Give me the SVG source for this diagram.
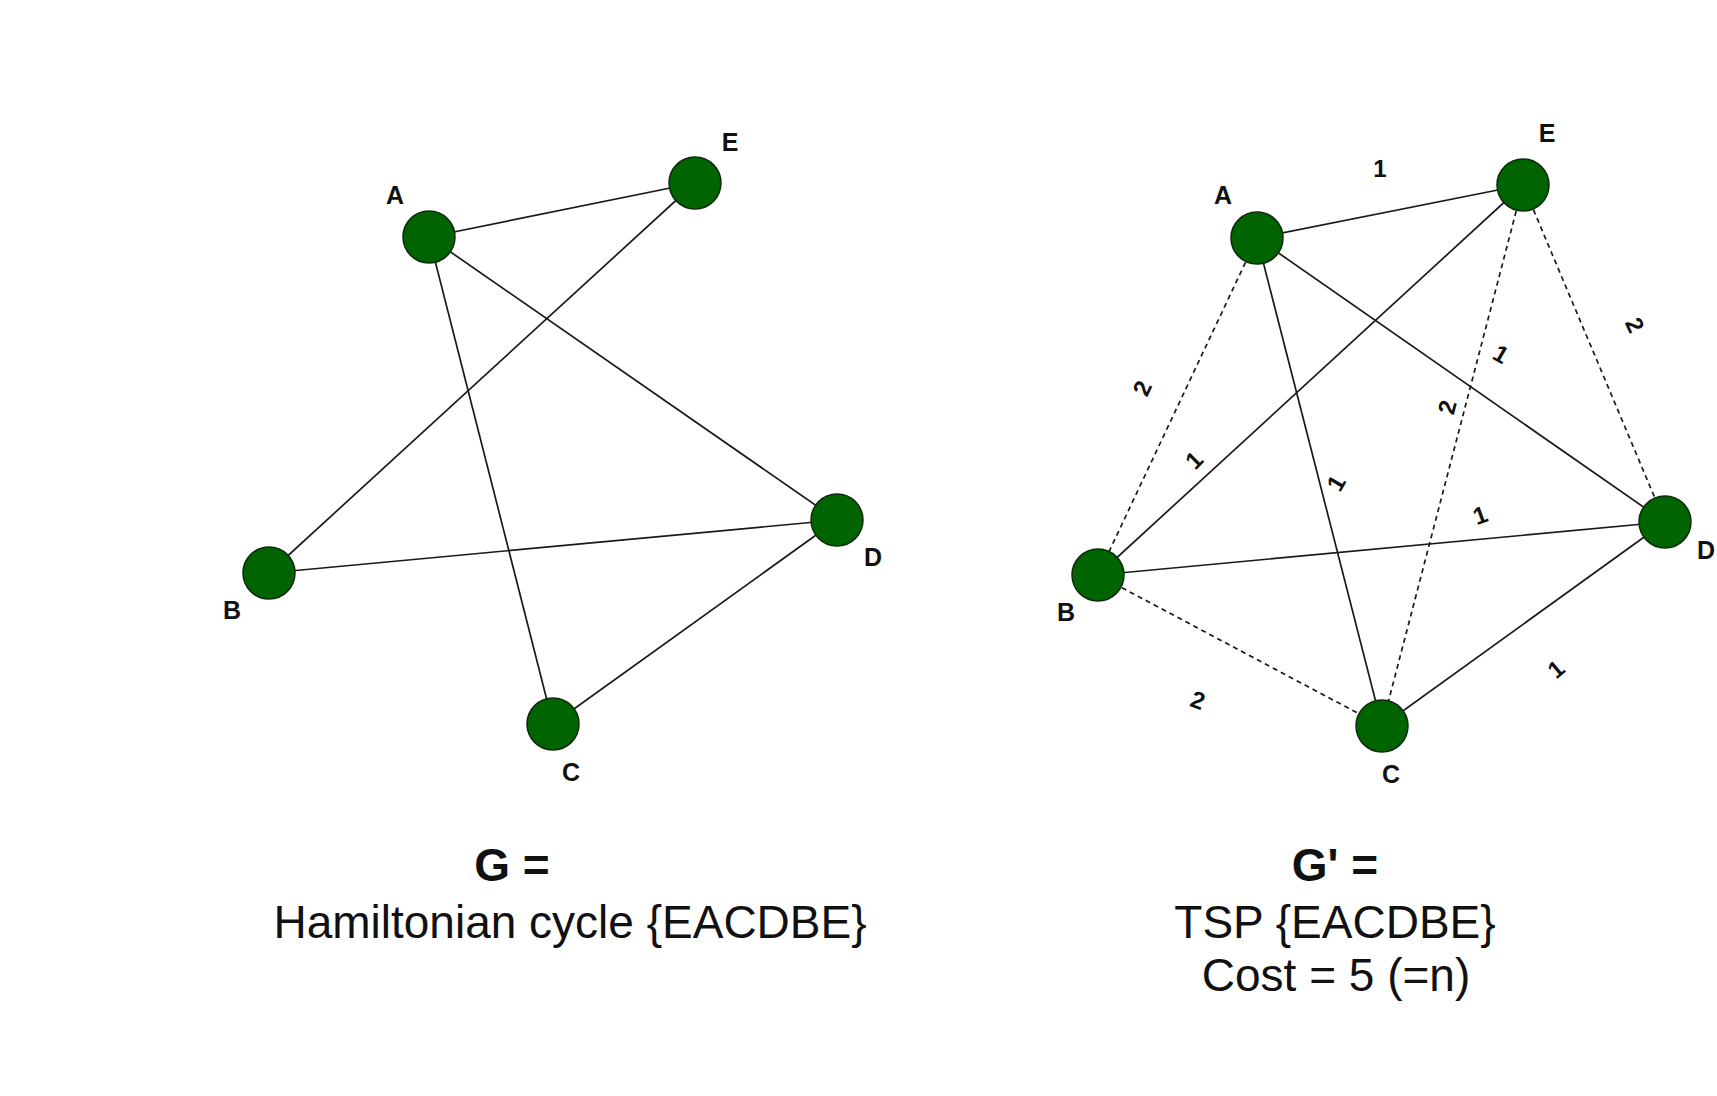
<svg xmlns="http://www.w3.org/2000/svg" width="1717" height="1096" viewBox="0 0 1717 1096">
<style>
.e{stroke:#1a1a1a;stroke-width:1.7;fill:none}
.d{stroke:#1a1a1a;stroke-width:1.7;fill:none;stroke-dasharray:5 4}
.n{fill:#006400;stroke:#0d2a0d;stroke-width:1.5}
.nl{font-family:"Liberation Sans",Arial,sans-serif;font-weight:bold;font-size:25px;fill:#111;text-anchor:middle}
.w{font-family:"Liberation Sans",Arial,sans-serif;font-weight:bold;font-size:24px;fill:#111;text-anchor:middle;dominant-baseline:central}
.t{font-family:"Liberation Sans",Arial,sans-serif;font-size:46px;fill:#111;text-anchor:middle}
.tb{font-weight:bold}
</style>
<rect width="1717" height="1096" fill="#fff"/>
<g id="connectors">
<line class="e" x1="429" y1="237" x2="695" y2="183"/>
<line class="e" x1="429" y1="237" x2="837" y2="520"/>
<line class="e" x1="429" y1="237" x2="553" y2="724"/>
<line class="e" x1="695" y1="183" x2="269" y2="573"/>
<line class="e" x1="269" y1="573" x2="837" y2="520"/>
<line class="e" x1="553" y1="724" x2="837" y2="520"/>
<line class="e" x1="1257" y1="238" x2="1523" y2="185"/>
<line class="e" x1="1257" y1="238" x2="1665" y2="522"/>
<line class="e" x1="1257" y1="238" x2="1382" y2="726"/>
<line class="e" x1="1523" y1="185" x2="1098" y2="575"/>
<line class="e" x1="1098" y1="575" x2="1665" y2="522"/>
<line class="e" x1="1382" y1="726" x2="1665" y2="522"/>
<line class="d" x1="1257" y1="238" x2="1098" y2="575"/>
<line class="d" x1="1523" y1="185" x2="1382" y2="726"/>
<line class="d" x1="1523" y1="185" x2="1665" y2="522"/>
<line class="d" x1="1098" y1="575" x2="1382" y2="726"/>
<text class="w" x="1380" y="168">1</text>
<text class="w" transform="translate(1142,388) rotate(-65)">2</text>
<text class="w" transform="translate(1194,460) rotate(-45)">1</text>
<text class="w" transform="translate(1336,483) rotate(-60)">1</text>
<text class="w" transform="translate(1447,407) rotate(-75)">2</text>
<text class="w" transform="translate(1501,354) rotate(30)">1</text>
<text class="w" transform="translate(1480,515) rotate(-20)">1</text>
<text class="w" transform="translate(1635,325) rotate(65)">2</text>
<text class="w" transform="translate(1198,700) rotate(20)">2</text>
<text class="w" transform="translate(1556,669) rotate(-40)">1</text>
</g>
<g id="G-A"><circle class="n" cx="429" cy="237" r="26"/><text class="nl" x="395" y="204">A</text></g>
<g id="G-E"><circle class="n" cx="695" cy="183" r="26"/><text class="nl" x="730" y="151">E</text></g>
<g id="G-B"><circle class="n" cx="269" cy="573" r="26"/><text class="nl" x="232" y="619">B</text></g>
<g id="G-D"><circle class="n" cx="837" cy="520" r="26"/><text class="nl" x="873" y="566">D</text></g>
<g id="G-C"><circle class="n" cx="553" cy="724" r="26"/><text class="nl" x="571" y="781">C</text></g>
<g id="H-A"><circle class="n" cx="1257" cy="238" r="26"/><text class="nl" x="1223" y="204">A</text></g>
<g id="H-E"><circle class="n" cx="1523" cy="185" r="26"/><text class="nl" x="1547" y="142">E</text></g>
<g id="H-B"><circle class="n" cx="1098" cy="575" r="26"/><text class="nl" x="1066" y="621">B</text></g>
<g id="H-D"><circle class="n" cx="1665" cy="522" r="26"/><text class="nl" x="1706" y="559">D</text></g>
<g id="H-C"><circle class="n" cx="1382" cy="726" r="26"/><text class="nl" x="1391" y="783">C</text></g>
<g id="caption-left">
<text class="t tb" x="512" y="881">G =</text>
<text class="t" x="570" y="938">Hamiltonian cycle {EACDBE}</text>
</g>
<g id="caption-right">
<text class="t tb" x="1335" y="881">G' =</text>
<text class="t" x="1335" y="938">TSP {EACDBE}</text>
<text class="t" x="1336" y="991">Cost = 5 (=n)</text>
</g>
</svg>
